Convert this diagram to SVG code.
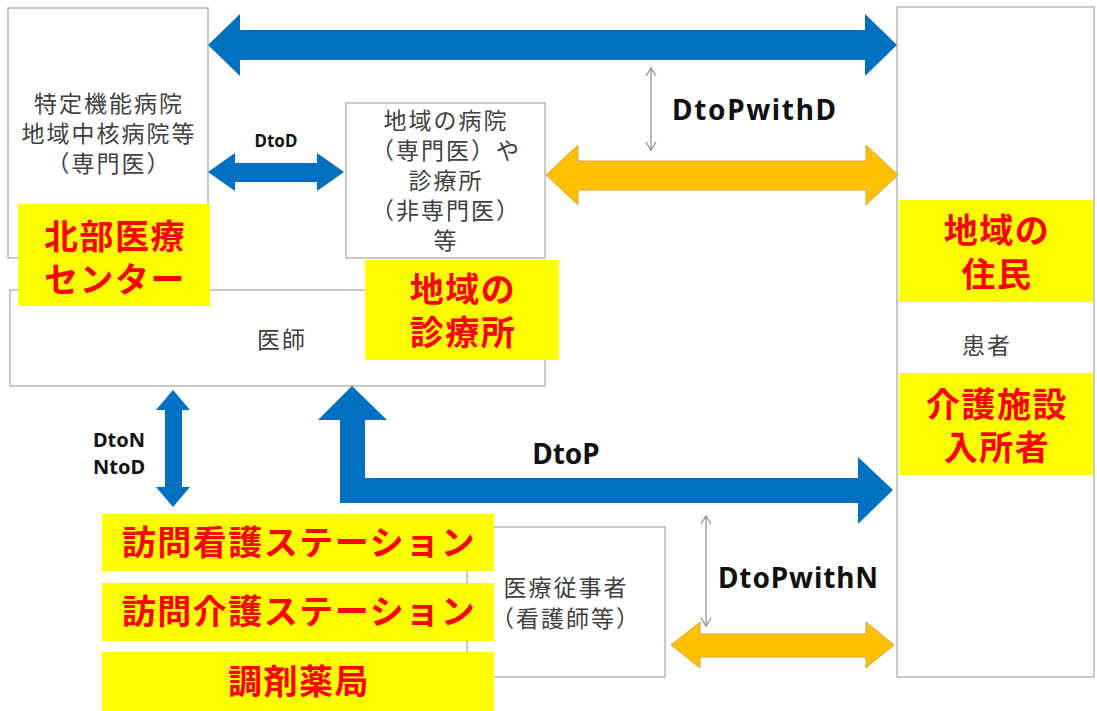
<svg xmlns="http://www.w3.org/2000/svg" width="1097" height="711" viewBox="0 0 1097 711">
<style>
.box{fill:#ffffff;stroke:#a6a6a6;stroke-width:1.2}
.g{font-family:"Noto Sans CJK JP","Liberation Sans",sans-serif;fill:#404040;font-size:23px;letter-spacing:2px;text-anchor:middle}
.hl{fill:#ffff00}
.r{font-family:"Noto Sans CJK JP","Liberation Sans",sans-serif;fill:#ff0000;font-weight:bold;font-size:34px;letter-spacing:1.5px;text-anchor:middle}
.lb{font-family:"Noto Sans","Liberation Sans",sans-serif;font-weight:bold;fill:#111;text-anchor:middle}
.blue{fill:#0070c0}
.orange{fill:#ffc000;stroke:#d9a441;stroke-width:1}
.thin{stroke:#8c8c8c;stroke-width:1.2;fill:none}
</style>
<rect width="1097" height="711" fill="#ffffff"/>
<g id="node-tokutei">
<rect class="box" x="8" y="8" width="200" height="250"/>
<text class="g" x="109" y="112">特定機能病院</text>
<text class="g" x="109" y="142">地域中核病院等</text>
<text class="g" x="109" y="172">（専門医）</text>
</g>
<g id="node-chiiki-byoin">
<rect class="box" x="346" y="103" width="199" height="155"/>
<text class="g" x="446" y="129">地域の病院</text>
<text class="g" x="446" y="159">（専門医）や</text>
<text class="g" x="446" y="189">診療所</text>
<text class="g" x="446" y="219">（非専門医）</text>
<text class="g" x="446" y="249">等</text>
</g>
<g id="node-ishi">
<rect class="box" x="10" y="290" width="535" height="96"/>
<text class="g" x="282" y="348">医師</text>
</g>
<g id="node-kanja">
<rect class="box" x="897" y="7" width="197" height="670"/>
<text class="g" x="987" y="354">患者</text>
</g>
<g id="node-iryo">
<rect class="box" x="467" y="527" width="198" height="150"/>
<text class="g" x="566" y="596">医療従事者</text>
<text class="g" x="566" y="627">（看護師等）</text>
</g>
<g id="connectors">
<polygon class="blue" points="208,45 240,14 240,30 865,30 865,14 897,45 865,76 865,60 240,60 240,76"/>
<polygon class="blue" points="208,172 235,153 235,163 317,163 317,153 344,172 317,191 317,182 235,182 235,191"/>
<polygon class="orange" points="546,175 578,145 578,161 866,161 866,145 898,175 866,205 866,190 578,190 578,205"/>
<polygon class="orange" points="671,645 700,622 700,634 866,634 866,622 894,645 866,668 866,657 700,657 700,668"/>
<polygon class="blue" points="173,390 190,410 182,410 182,487 190,487 173,507 156,487 165,487 165,410 156,410"/>
<polygon class="blue" points="352,386 387,420 365,420 365,478 858,478 858,457 893,490 858,524 858,503 340,503 340,420 318,420"/>
<g class="thin">
<line x1="651" y1="68" x2="651" y2="150"/>
<polyline points="646,76 651,68 656,76"/>
<polyline points="646,142 651,150 656,142"/>
<line x1="706" y1="516" x2="706" y2="626"/>
<polyline points="701,524 706,516 711,524"/>
<polyline points="701,618 706,626 711,618"/>
</g>
<text class="lb" x="276" y="147" font-size="17">DtoD</text>
<text class="lb" x="754" y="120" font-size="28" textLength="164" lengthAdjust="spacing">DtoPwithD</text>
<text class="lb" x="566" y="464" font-size="28">DtoP</text>
<text class="lb" x="798" y="588" font-size="28" textLength="160" lengthAdjust="spacing">DtoPwithN</text>
<text class="lb" x="119" y="447" font-size="20">DtoN</text>
<text class="lb" x="119" y="474" font-size="20">NtoD</text>
</g>
<g id="label-hokubu">
<rect class="hl" x="18" y="204" width="192" height="102"/>
<text class="r" x="115" y="249">北部医療</text>
<text class="r" x="115" y="292">センター</text>
</g>
<g id="label-shinryojo">
<rect class="hl" x="365" y="260" width="194" height="100"/>
<text class="r" x="463" y="302">地域の</text>
<text class="r" x="463" y="345">診療所</text>
</g>
<g id="label-jumin">
<rect class="hl" x="899" y="200" width="194" height="102"/>
<text class="r" x="997" y="243">地域の</text>
<text class="r" x="997" y="287">住民</text>
</g>
<g id="label-kaigo-shisetsu">
<rect class="hl" x="899" y="373" width="194" height="102"/>
<text class="r" x="997" y="417">介護施設</text>
<text class="r" x="997" y="460">入所者</text>
</g>
<g id="label-houmon-kango">
<rect class="hl" x="102" y="514" width="392" height="57"/>
<text class="r" x="299" y="555">訪問看護ステーション</text>
</g>
<g id="label-houmon-kaigo">
<rect class="hl" x="102" y="583" width="392" height="58"/>
<text class="r" x="299" y="624">訪問介護ステーション</text>
</g>
<g id="label-yakkyoku">
<rect class="hl" x="102" y="652" width="392" height="59"/>
<text class="r" x="299" y="694">調剤薬局</text>
</g>
</svg>
